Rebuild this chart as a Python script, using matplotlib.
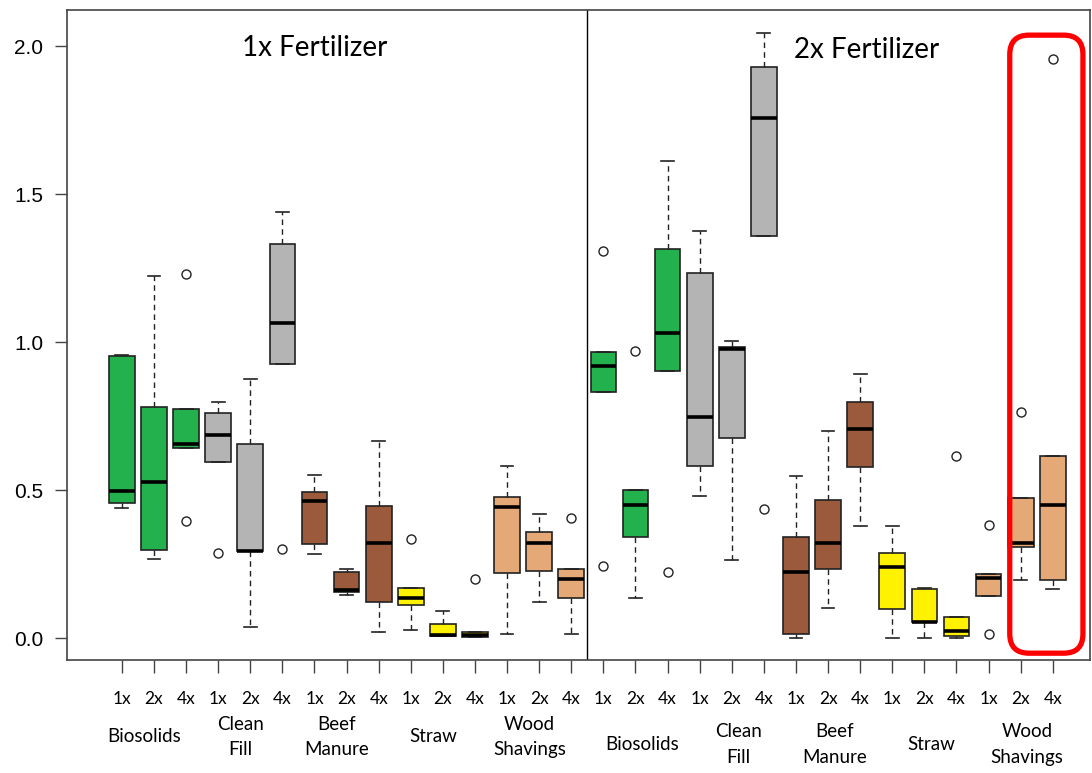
import numpy as np
import matplotlib.pyplot as plt
from matplotlib.patches import FancyBboxPatch
from matplotlib.transforms import blended_transform_factory

groups = ['Biosolids', 'Clean\nFill', 'Beef\nManure', 'Straw', 'Wood\nShavings']
rates = ['1x', '2x', '4x']
panels = ['1x Fertilizer', '2x Fertilizer']
group_colors = ['#22B14C', '#B4B4B4', '#9C5A3C', '#FFF200', '#E5A877']

# five-number summaries, 1x fertilizer panel then 2x fertilizer panel
whis_hi = [0.958, 1.223, 0.775, 0.799, 0.876, 1.440, 0.552, 0.234, 0.667, 0.170, 0.090, 0.019, 0.580, 0.419, 0.234,
           0.965, 0.501, 1.613, 1.375, 1.004, 2.044, 0.548, 0.698, 0.891, 0.380, 0.170, 0.072, 0.216, 0.474, 0.614]
q3 = [0.952, 0.781, 0.775, 0.760, 0.655, 1.331, 0.494, 0.223, 0.447, 0.170, 0.047, 0.019, 0.476, 0.358, 0.234,
      0.965, 0.501, 1.313, 1.233, 0.984, 1.931, 0.340, 0.466, 0.796, 0.289, 0.167, 0.072, 0.216, 0.474, 0.614]
med = [0.498, 0.526, 0.656, 0.685, 0.295, 1.066, 0.462, 0.161, 0.322, 0.135, 0.009, 0.009, 0.444, 0.322, 0.198,
       0.918, 0.448, 1.030, 0.748, 0.977, 1.758, 0.224, 0.322, 0.705, 0.239, 0.054, 0.025, 0.202, 0.322, 0.448]
q1 = [0.457, 0.299, 0.642, 0.595, 0.293, 0.926, 0.318, 0.156, 0.123, 0.112, 0.007, 0.004, 0.221, 0.228, 0.135,
      0.832, 0.343, 0.902, 0.582, 0.676, 1.360, 0.014, 0.234, 0.579, 0.097, 0.054, 0.007, 0.141, 0.307, 0.195]
whis_lo = [0.439, 0.267, 0.642, 0.595, 0.037, 0.926, 0.285, 0.145, 0.019, 0.026, 0.007, 0.004, 0.015, 0.123, 0.015,
           0.832, 0.134, 0.902, 0.481, 0.264, 1.360, 0.000, 0.101, 0.380, 0.000, 0.000, 0.000, 0.141, 0.196, 0.167]
outliers = [[], [], [1.230, 0.395], [0.286], [], [0.300], [], [], [], [0.335], [], [0.200], [], [], [0.405],
            [1.309, 0.245], [0.970], [0.224], [], [], [0.437], [], [], [], [], [], [0.615], [0.383, 0.015],
            [0.764], [1.956]]

positions = np.arange(1, 31)
colors = [c for c in group_colors for _ in rates] * 2
stats = [dict(med=med[i], q1=q1[i], q3=q3[i], whislo=whis_lo[i], whishi=whis_hi[i], fliers=outliers[i])
         for i in range(30)]

fig = plt.figure(figsize=(10.92, 7.73), dpi=100)
ax = fig.add_axes([67 / 1092, 1 - 660 / 773, 1023 / 1092, 650 / 773])

edge = '#222222'
bp = ax.bxp(stats, positions=positions, widths=0.8, capwidths=0.4, patch_artist=True,
            boxprops=dict(edgecolor=edge, linewidth=1.2),
            medianprops=dict(color='black', linewidth=2.6, solid_capstyle='butt'),
            whiskerprops=dict(color=edge, linewidth=1.0, linestyle=(0, (4, 3))),
            capprops=dict(color=edge, linewidth=1.2),
            flierprops=dict(marker='o', markerfacecolor='none', markeredgecolor=edge,
                            markersize=6.5, markeredgewidth=1.0))
for patch, c in zip(bp['boxes'], colors):
    patch.set_facecolor(c)

ax.set_xlim(-0.71, 31.16)
ax.set_ylim(-0.074, 2.122)
ax.axvline(15.5, color='black', linewidth=1.0)

for s in ax.spines.values():
    s.set_color('#444444')
    s.set_linewidth(1.2)

ax.set_yticks([0.0, 0.5, 1.0, 1.5, 2.0])
ax.set_yticklabels(['0.0', '0.5', '1.0', '1.5', '2.0'], fontfamily='Liberation Sans', fontsize=15)
ax.tick_params(axis='y', length=9, width=1.0, color='#444444', pad=8)

ax.set_xticks(positions)
ax.set_xticklabels(rates * 10, fontfamily='Lato', fontsize=12.5)
ax.tick_params(axis='x', length=9, width=1.0, color='#444444', pad=13)

# material names under each group of three
trans = blended_transform_factory(ax.transData, ax.transAxes)
for p, shift, ylab in [(0, -0.3, -0.118), (1, 0.2, -0.13)]:
    for g, name in enumerate(groups):
        xc = positions[p * 15 + g * 3 + 1] + shift
        ax.text(xc, ylab, name, transform=trans, ha='center', va='center',
                fontfamily='Lato', fontsize=13.5, linespacing=1.6)

for name, xt, yt in zip(panels, [7.0, 24.2], [1.993, 1.986]):
    ax.text(xt, yt, name, ha='center', va='center', fontfamily='Lato', fontsize=20)

# highlight around the wood shavings boxes in the 2x panel
hl = FancyBboxPatch((28.66, -0.051), 2.28, 2.088,
                    boxstyle='round,pad=0,rounding_size=0.6', mutation_aspect=0.1085,
                    facecolor='none', edgecolor='#FF0000', linewidth=3.8, clip_on=False, zorder=5)
ax.add_patch(hl)

fig.savefig('out.png', dpi=100)
